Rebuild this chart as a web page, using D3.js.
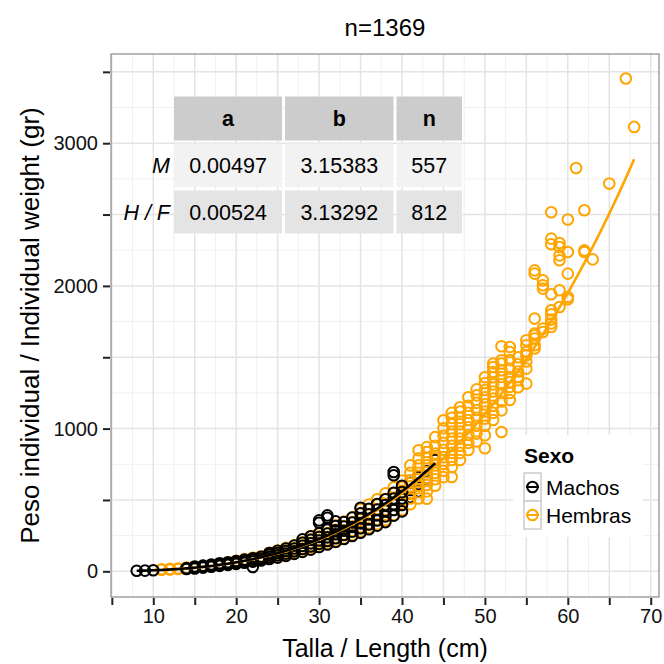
<!DOCTYPE html>
<html>
<head>
<meta charset="utf-8">
<script src="https://cdn.jsdelivr.net/npm/d3@7"></script>
<style>
  body { margin: 0; background: #ffffff; }
  svg { display: block; font-family: "Liberation Sans", Arial, Helvetica, sans-serif; }
</style>
</head>
<body>
<svg id="chart" width="664" height="664"></svg>
<script>
// ---- chart text ----
const title = "n=1369";
const xLabel = "Talla / Length (cm)";
const yLabel = "Peso individual / Individual weight (gr)";
const legendTitle = "Sexo";
const sexLabels = ["Machos", "Hembras"];
const sexColors = ["#000000", "#FFA500"];

// ---- axis breaks ----
const xTicks = [5, 10, 15, 20, 25, 30, 35, 40, 45, 50, 55, 60, 65, 70];
const xTickLabels = ["", "10", "", "20", "", "30", "", "40", "", "50", "", "60", "", "70"];
const yTicks = [0, 500, 1000, 1500, 2000, 2500, 3000, 3500];
const yTickLabels = ["0", "", "1000", "", "2000", "", "3000", ""];

// ---- length-weight parameters (W = a * L^b) ----
const paramCols = ["a", "b", "n"];
const paramRows = ["M", "H / F"];
const paramA = [0.00497, 0.00524];
const paramB = [3.15383, 3.13292];
const paramN = [557, 812];

// ---- observations: [length (cm), [weights (gr)]] ----
const machos = [
  [8, [4]], [9, [5]], [10, [7]],
  [14, [16, 22]], [15, [20, 27, 34]], [16, [26, 34, 40]], [17, [32, 40, 48]],
  [18, [38, 47, 56]], [19, [45, 55, 64]], [20, [52, 62, 72]], [21, [60, 70, 82]],
  [22, [30, 68, 80, 92]], [23, [76, 88, 102]], [24, [86, 100, 115, 128]],
  [25, [96, 112, 128, 144]], [26, [108, 124, 142, 160]], [27, [122, 140, 160, 180]],
  [28, [136, 156, 178, 200, 224]], [29, [152, 174, 196, 220, 246]],
  [30, [170, 192, 216, 240, 266, 340, 357]],
  [31, [188, 212, 238, 264, 292, 375, 392]],
  [32, [206, 232, 260, 288, 318, 350]],
  [33, [226, 254, 284, 314, 346]],
  [34, [248, 278, 310, 342, 376]],
  [35, [270, 302, 336, 370, 406, 445]],
  [36, [295, 328, 364, 400, 438]],
  [37, [320, 356, 394, 432, 472]],
  [38, [345, 385, 425, 465, 505]],
  [39, [390, 430, 470, 510, 550, 673, 696]],
  [40, [420, 465, 510, 555, 600]],
  [41, [520, 570, 620]], [42, [560, 610, 660]], [43, [650, 700]], [44, [780]]
];

const hembras = [
  [11, [10, 14]], [12, [13, 17]], [13, [16, 20]], [14, [20, 26]], [15, [25, 32]],
  [16, [30, 38]], [17, [35, 45]], [18, [42, 52]], [19, [48, 60]],
  [20, [55, 64, 74]], [21, [62, 72, 84]], [22, [70, 82, 95]], [23, [80, 92, 106]],
  [24, [90, 104, 118, 130]], [25, [100, 115, 130, 146]], [26, [112, 128, 146, 164]],
  [27, [126, 144, 162, 182]], [28, [140, 160, 180, 204]],
  [29, [158, 178, 200, 224, 246]], [30, [175, 198, 220, 245, 270]],
  [31, [195, 218, 242, 268, 296]], [32, [212, 238, 264, 292, 322]],
  [33, [232, 260, 288, 318, 348]], [34, [255, 284, 314, 345, 378]],
  [35, [280, 310, 340, 372, 405, 436]], [36, [305, 336, 368, 400, 434, 468]],
  [37, [330, 364, 398, 432, 468, 505]], [38, [360, 396, 432, 468, 506, 546]],
  [39, [395, 430, 468, 506, 546, 588]], [40, [430, 465, 474, 505, 545, 590, 636]],
  [41, [470, 510, 550, 595, 640, 690, 742]],
  [42, [510, 555, 600, 645, 690, 742, 792, 848]],
  [43, [509, 560, 605, 650, 695, 742, 792, 836, 870]],
  [44, [600, 645, 690, 742, 792, 825, 880, 940]],
  [45, [660, 705, 752, 800, 852, 900, 950, 1002, 1058]],
  [46, [661, 730, 780, 830, 880, 930, 980, 1030, 1075, 1110]],
  [47, [780, 830, 880, 930, 980, 1030, 1075, 1120, 1150]],
  [48, [850, 900, 955, 1010, 1060, 1110, 1160, 1220]],
  [49, [910, 965, 1020, 1075, 1130, 1180, 1233, 1275]],
  [50, [862, 953, 1020, 1070, 1120, 1170, 1220, 1270, 1320, 1360]],
  [51, [1060, 1110, 1160, 1210, 1260, 1310, 1360, 1397, 1432, 1456]],
  [52, [976, 1128, 1190, 1250, 1310, 1362, 1409, 1456, 1479, 1577]],
  [53, [1200, 1250, 1292, 1327, 1362, 1420, 1480, 1537, 1572]],
  [54, [1290, 1340, 1362, 1400, 1451, 1500]],
  [55, [1315, 1420, 1470, 1514, 1537, 1584, 1619]],
  [56, [1561, 1584, 1631, 1654, 1666, 1771, 2086, 2109]],
  [57, [1677, 1701, 1981, 2004, 2039]],
  [58, [1712, 1736, 1764, 1801, 1829, 1941, 2292, 2331, 2516]],
  [59, [1852, 1969, 2180, 2214, 2273, 2301]],
  [60, [1906, 1922, 2086, 2238, 2465]],
  [61, [2826]], [62, [2238, 2249, 2530]], [63, [2186]],
  [65, [2717]], [67, [3453]], [68, [3114]]
];

// ---- layout ----
const panel = { left: 111, right: 659, top: 54, bottom: 597 };
const svg = d3.select("#chart");

const x = d3.scaleLinear().domain([4.9, 71.0]).range([panel.left, panel.right]);
const y = d3.scaleLinear().domain([-180, 3625]).range([panel.bottom, panel.top]);

const flatten = (rows, sex) => rows.flatMap(([len, ws]) => ws.map(w => ({ len, w, sex })));
const pointsM = flatten(machos, 0);
const pointsH = flatten(hembras, 1);

// panel background
svg.append("rect")
  .attr("x", panel.left).attr("y", panel.top)
  .attr("width", panel.right - panel.left).attr("height", panel.bottom - panel.top)
  .attr("fill", "#ffffff");

// grid: minor lines halfway between breaks, major lines at breaks
const xMinor = d3.range(2.5, 72.5, 5).filter(v => v > 4.9 && v < 71);
const yMinor = d3.range(-250, 3750, 500).filter(v => v > -180 && v < 3625);
const grid = svg.append("g");
grid.selectAll(".xmin").data(xMinor).join("line")
  .attr("x1", d => x(d)).attr("x2", d => x(d))
  .attr("y1", panel.top).attr("y2", panel.bottom)
  .attr("stroke", "#f0f0f0").attr("stroke-width", 1);
grid.selectAll(".ymin").data(yMinor).join("line")
  .attr("y1", d => y(d)).attr("y2", d => y(d))
  .attr("x1", panel.left).attr("x2", panel.right)
  .attr("stroke", "#f0f0f0").attr("stroke-width", 1);
grid.selectAll(".xmaj").data(xTicks).join("line")
  .attr("x1", d => x(d)).attr("x2", d => x(d))
  .attr("y1", panel.top).attr("y2", panel.bottom)
  .attr("stroke", "#e4e4e4").attr("stroke-width", 1.5);
grid.selectAll(".ymaj").data(yTicks).join("line")
  .attr("y1", d => y(d)).attr("y2", d => y(d))
  .attr("x1", panel.left).attr("x2", panel.right)
  .attr("stroke", "#e4e4e4").attr("stroke-width", 1.5);

// observations: the largest males sit beneath the female cloud,
// the rest of the males are drawn over it
const drawOrder = [
  pointsM.filter(d => d.len > 40),
  pointsH,
  pointsM.filter(d => d.len <= 40)
];
const pts = svg.append("g");
drawOrder.forEach(set => {
  pts.append("g").selectAll("circle").data(set).join("circle")
    .attr("cx", d => x(d.len)).attr("cy", d => y(d.w))
    .attr("r", 5.3)
    .attr("fill", "none")
    .attr("stroke", d => sexColors[d.sex])
    .attr("stroke-width", 2);
});

// fitted curves W = a L^b over each sex's observed length range (male curve on top)
const curve = d3.line().x(d => x(d[0])).y(d => y(d[1]));
[[hembras, 1], [machos, 0]].forEach(([rows, i]) => {
  const [lo, hi] = d3.extent(rows, r => r[0]);
  const fit = d3.range(lo, hi + 0.001, 0.25).map(L => [L, paramA[i] * Math.pow(L, paramB[i])]);
  svg.append("path").datum(fit)
    .attr("d", curve).attr("fill", "none")
    .attr("stroke", sexColors[i]).attr("stroke-width", 2.6);
});

// panel border
svg.append("rect")
  .attr("x", panel.left).attr("y", panel.top)
  .attr("width", panel.right - panel.left).attr("height", panel.bottom - panel.top)
  .attr("fill", "none").attr("stroke", "#7f7f7f").attr("stroke-width", 1.1);

// axes
const xAxis = d3.axisBottom(x).tickValues(xTicks)
  .tickFormat((d, i) => xTickLabels[i]).tickSize(7).tickPadding(4);
const yAxis = d3.axisLeft(y).tickValues(yTicks)
  .tickFormat((d, i) => yTickLabels[i]).tickSize(7).tickPadding(5);
const gx = svg.append("g").attr("transform", `translate(0,${panel.bottom + 1})`).call(xAxis);
const gy = svg.append("g").attr("transform", `translate(${panel.left - 1},0)`).call(yAxis);
[gx, gy].forEach(g => {
  g.select(".domain").remove();
  g.selectAll(".tick line").attr("stroke", "#222").attr("stroke-width", 2);
  g.selectAll(".tick text").attr("fill", "#111").attr("font-size", 20)
    .attr("font-family", "Liberation Sans, Arial, sans-serif");
});

// titles
svg.append("text").attr("x", (panel.left + panel.right) / 2).attr("y", 36)
  .attr("text-anchor", "middle").attr("font-size", 24).attr("fill", "#000").text(title);
svg.append("text").attr("x", (panel.left + panel.right) / 2).attr("y", 657)
  .attr("text-anchor", "middle").attr("font-size", 25).attr("fill", "#000").text(xLabel);
svg.append("text")
  .attr("transform", `translate(39,${(panel.top + panel.bottom) / 2}) rotate(-90)`)
  .attr("text-anchor", "middle").attr("font-size", 26).attr("fill", "#000").text(yLabel);

// parameter table
const fmt5 = d3.format(".5f");
const tableBody = [
  [fmt5(paramA[0]), fmt5(paramB[0]), String(paramN[0])],
  [fmt5(paramA[1]), fmt5(paramB[1]), String(paramN[1])]
];
const colEdges = [[174, 282], [285, 393.5], [396.5, 462]];
const rowEdges = [[96.5, 140.5], [143.5, 187], [190.5, 233.5]];
const rowFills = ["#f2f2f2", "#e4e4e4"];
const tbl = svg.append("g").attr("font-size", 21.5).attr("fill", "#000");
paramCols.forEach((c, j) => {
  const [x0, x1] = colEdges[j], [y0, y1] = rowEdges[0];
  tbl.append("rect").attr("x", x0).attr("y", y0).attr("width", x1 - x0).attr("height", y1 - y0)
    .attr("fill", "#cccccc");
  tbl.append("text").attr("x", (x0 + x1) / 2).attr("y", (y0 + y1) / 2 + 7.5)
    .attr("text-anchor", "middle").attr("font-weight", "bold").text(c);
});
tableBody.forEach((row, i) => {
  const [y0, y1] = rowEdges[i + 1];
  tbl.append("text").attr("x", 170).attr("y", (y0 + y1) / 2 + 7.5)
    .attr("text-anchor", "end").attr("font-style", "italic").text(paramRows[i]);
  row.forEach((v, j) => {
    const [x0, x1] = colEdges[j];
    tbl.append("rect").attr("x", x0).attr("y", y0).attr("width", x1 - x0).attr("height", y1 - y0)
      .attr("fill", rowFills[i]);
    tbl.append("text").attr("x", (x0 + x1) / 2).attr("y", (y0 + y1) / 2 + 7.5)
      .attr("text-anchor", "middle").text(v);
  });
});

// legend
const lg = svg.append("g");
lg.append("rect").attr("x", 513).attr("y", 435).attr("width", 130).attr("height", 102).attr("fill", "#ffffff");
lg.append("text").attr("x", 524).attr("y", 463).attr("font-size", 21).attr("font-weight", "bold").text(legendTitle);
sexLabels.forEach((lab, i) => {
  const ky = 473 + i * 28;
  lg.append("rect").attr("x", 524).attr("y", ky).attr("width", 17).attr("height", 28)
    .attr("fill", "#ffffff").attr("stroke", "#cccccc").attr("stroke-width", 1.5);
  lg.append("line").attr("x1", 526).attr("x2", 539).attr("y1", ky + 14).attr("y2", ky + 14)
    .attr("stroke", sexColors[i]).attr("stroke-width", 2);
  lg.append("circle").attr("cx", 532.5).attr("cy", ky + 14).attr("r", 5.3)
    .attr("fill", "none").attr("stroke", sexColors[i]).attr("stroke-width", 2);
  lg.append("text").attr("x", 546).attr("y", ky + 22).attr("font-size", 21).text(lab);
});
</script>
</body>
</html>
